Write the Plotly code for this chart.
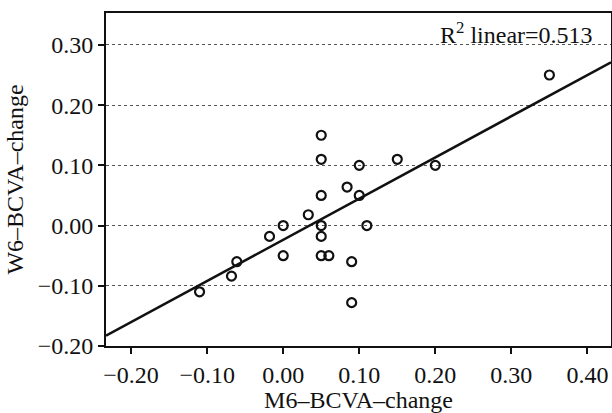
import plotly.graph_objects as go

# Data
m6_change = [-0.110, -0.068, -0.061, -0.018, 0.000, 0.000, 0.033, 0.050, 0.050, 0.050,
             0.050, 0.050, 0.050, 0.060, 0.084, 0.100, 0.100, 0.110, 0.090, 0.090,
             0.150, 0.200, 0.350]
w6_change = [-0.110, -0.084, -0.060, -0.018, 0.000, -0.050, 0.018, 0.150, 0.110, 0.050,
             0.000, -0.018, -0.050, -0.050, 0.064, 0.100, 0.050, 0.000, -0.060, -0.128,
             0.110, 0.100, 0.250]

fit_slope = 0.684
fit_intercept = -0.0236
r2_label = "R<sup>2</sup> linear=0.513"

x_range = [-0.233, 0.431]
y_range = [-0.20, 0.353]
tick_vals = [-0.20, -0.10, 0.00, 0.10, 0.20, 0.30, 0.40]
y_tick_vals = [-0.20, -0.10, 0.00, 0.10, 0.20, 0.30]

FONT = "Liberation Serif"
tick_font = dict(family=FONT, size=24, color="#111111")

fig = go.Figure()
fit_x = x_range
fit_y = [fit_slope * v + fit_intercept for v in fit_x]
fig.add_trace(go.Scatter(x=fit_x, y=fit_y, mode="lines",
                         line=dict(color="#111111", width=2.5),
                         showlegend=False, hoverinfo="skip"))
fig.add_trace(go.Scatter(x=m6_change, y=w6_change, mode="markers",
                         marker=dict(symbol="circle-open", size=9, color="#111111",
                                     line=dict(width=2.2, color="#111111")),
                         showlegend=False))

fig.update_layout(
    width=612, height=413,
    margin=dict(l=106, r=1, t=13, b=67),
    paper_bgcolor="white", plot_bgcolor="white",
    font=dict(family=FONT, size=24, color="#111111"),
    xaxis=dict(range=x_range, tickvals=tick_vals, tickformat=".2f",
               tickfont=tick_font, automargin=False,
               showgrid=False, zeroline=False,
               showline=True, linecolor="#111111", linewidth=2, mirror=True,
               ticks="outside", ticklen=6, tickwidth=2, tickcolor="#111111",
               title=dict(text="M6–BCVA–change", standoff=4,
                          font=dict(family=FONT, size=24))),
    yaxis=dict(range=y_range, tickvals=y_tick_vals, tickformat=".2f",
               tickfont=tick_font, automargin=False,
               showgrid=True, gridcolor="#555555", gridwidth=1, griddash="dot",
               zeroline=False,
               showline=True, linecolor="#111111", linewidth=2, mirror=True,
               ticks="outside", ticklen=6, tickwidth=2, tickcolor="#111111",
               title=dict(text="W6–BCVA–change", standoff=7,
                          font=dict(family=FONT, size=24))),
    annotations=[dict(text=r2_label, xref="paper", yref="paper",
                      x=0.968, y=0.94, xanchor="right", yanchor="middle",
                      showarrow=False, font=dict(family=FONT, size=24, color="#111111"))],
)

fig.write_html("out.html", config={"displayModeBar": False},
               post_script="document.body.style.margin='0';document.body.style.overflow='hidden';")
